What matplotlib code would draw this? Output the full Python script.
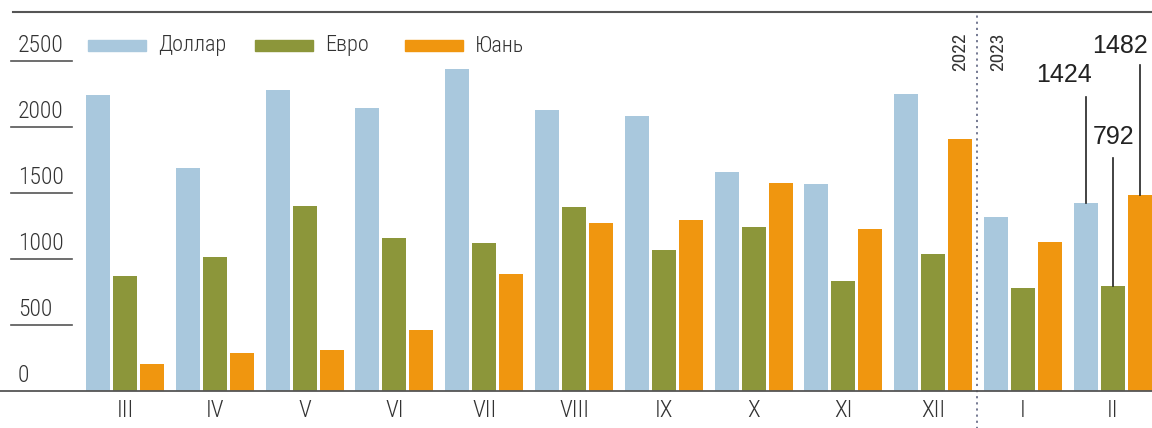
import matplotlib.pyplot as plt
import numpy as np
from matplotlib.patches import Rectangle

months = ["III", "IV", "V", "VI", "VII", "VIII", "IX", "X", "XI", "XII", "I", "II"]
dollar = [2240, 1690, 2280, 2145, 2440, 2130, 2085, 1660, 1570, 2250, 1320, 1424]
euro = [870, 1015, 1400, 1160, 1120, 1395, 1070, 1240, 835, 1040, 780, 792]
yuan = [205, 290, 310, 460, 885, 1275, 1295, 1575, 1225, 1910, 1130, 1482]
yticks = [0, 500, 1000, 1500, 2000, 2500]

c_dollar = "#a9c8dd"
c_euro = "#8c963a"
c_yuan = "#f0960f"
narrow = ["Roboto Condensed", "DejaVu Sans"]
txt = "#333333"

fig = plt.figure(figsize=(11.52, 4.28), dpi=100)
ax = fig.add_axes([0, 1 - 391 / 428, 1, (391 - 12) / 428])

x = np.arange(len(months))
w = 0.268
step = 0.3
ax.bar(x - step, dollar, w, color=c_dollar)
ax.bar(x, euro, w, color=c_euro)
ax.bar(x + step, yuan, w, color=c_yuan)

ax.set_xlim(-125 / 89.8, (1152 - 125) / 89.8)
ax.set_ylim(0, (391 - 12) / 0.132)

for s in ["left", "right", "top"]:
    ax.spines[s].set_visible(False)
ax.spines["bottom"].set_color("#555555")
ax.spines["bottom"].set_linewidth(1.3)
ax.axhline(ax.get_ylim()[1], xmin=13 / 1152, color="#555555", lw=1.5, clip_on=False)

ax.set_yticks([])
ax.set_xticks(x)
ax.set_xticklabels(months, family=narrow, fontsize=17, fontweight="light", color=txt)
ax.tick_params(axis="x", length=0, pad=6)

# y labels with short underlines
x0 = ax.get_xlim()[0]
for v in yticks:
    ax.text(x0 + 18 / 89.8, v + 30, str(v), family=narrow, fontsize=17,
            fontweight="light", color=txt, ha="left", va="bottom")
    if v > 0:
        ax.plot([x0 + 11 / 89.8, x0 + 72 / 89.8], [v, v], color="#555555", lw=1.2)

# year separator
ax.axvline(9.49, ymin=-0.1, ymax=1, color="#6a6f8a", lw=1.3,
           ls=(0, (1.2, 2.2)), clip_on=False)
ax.text(9.3, 2570, "2022", rotation=90, family=narrow, fontsize=14,
        color=txt, ha="center", va="center")
ax.text(9.72, 2570, "2023", rotation=90, family=narrow, fontsize=14,
        color=txt, ha="center", va="center")

# annotations for last month
i = len(months) - 1
notes = [(i - step, dollar[i], 2227, i - 0.54, 2300),
         (i, euro[i], 1765, i + 0.01, 1830),
         (i + step, yuan[i], 2470, i + 0.08, 2525)]
for bx, top, ltop, tx, ty in notes:
    ax.plot([bx, bx], [top, ltop], color="#222222", lw=1.2)
    ax.text(tx, ty, str(top), fontsize=18, family="Liberation Sans",
            color="#222222", ha="center", va="bottom")

# legend
legend = [("Доллар", c_dollar, 88), ("Евро", c_euro, 255), ("Юань", c_yuan, 405)]
for name, col, px in legend:
    fig.patches.append(Rectangle((px / 1152, 1 - 51 / 428), 58 / 1152, 11 / 428,
                                 color=col, transform=fig.transFigure))
    fig.text((px + 70) / 1152, 1 - 46 / 428, name, family=narrow, fontsize=16,
             fontweight="light", color=txt, ha="left", va="center")

fig.savefig("out.png", dpi=100)
